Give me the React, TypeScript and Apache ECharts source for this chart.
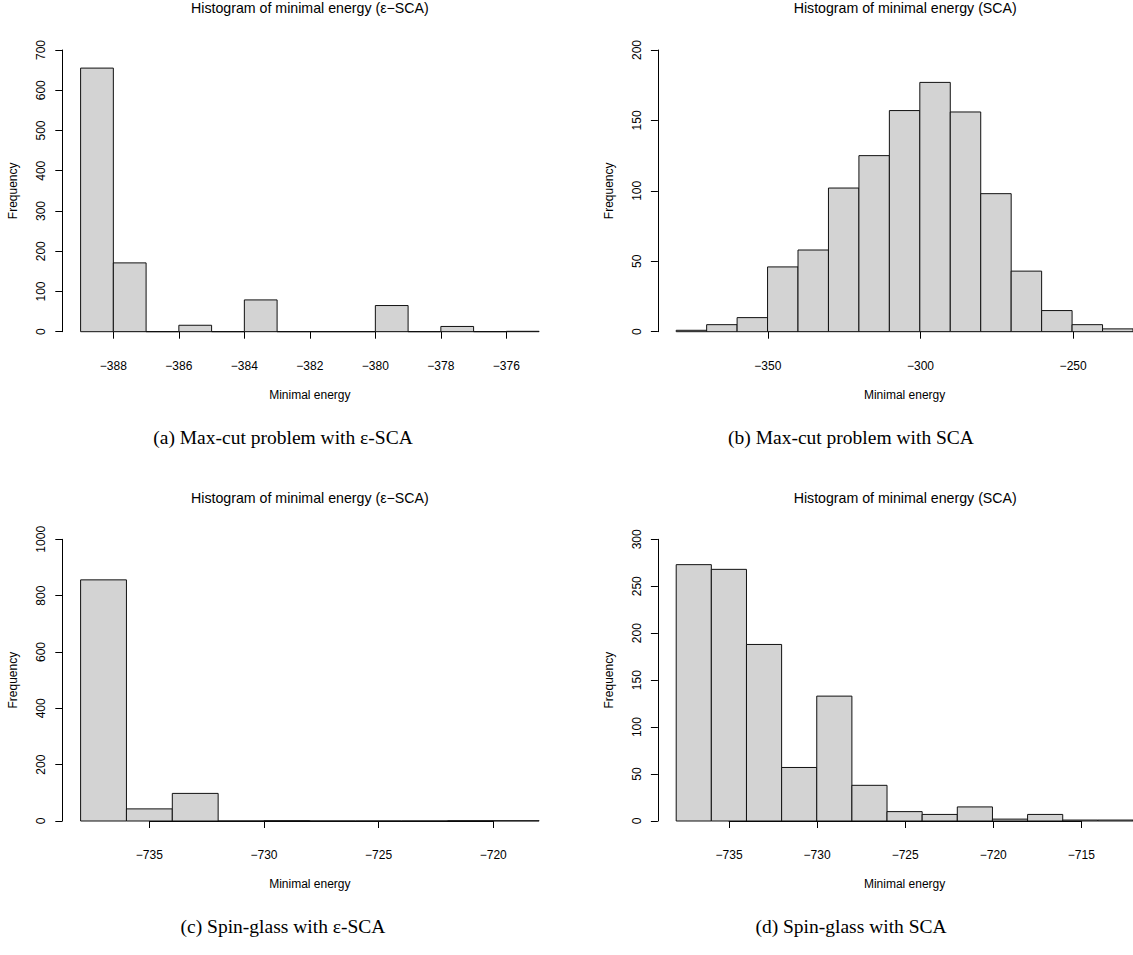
import React, { useEffect, useRef } from "react";
import * as echarts from "echarts";

// ---- Data ----
// (a) Max-cut, epsilon-SCA: bin breaks and counts
const breaksA = [-389, -388, -387, -386, -385, -384, -383, -382, -381, -380, -379, -378, -377, -376, -375];
const countsA = [655, 171, 0, 16, 0, 79, 0, 0, 0, 65, 0, 13, 0, 1];
const xTicksA = [-388, -386, -384, -382, -380, -378, -376];
const yTicksA = [0, 100, 200, 300, 400, 500, 600, 700];

// (b) Max-cut, SCA
const breaksB = [-380, -370, -360, -350, -340, -330, -320, -310, -300, -290, -280, -270, -260, -250, -240, -230];
const countsB = [1, 5, 10, 46, 58, 102, 125, 157, 177, 156, 98, 43, 15, 5, 2];
const xTicksB = [-350, -300, -250];
const yTicksB = [0, 50, 100, 150, 200];

// (c) Spin-glass, epsilon-SCA
const breaksC = [-738, -736, -734, -732, -730, -728, -726, -724, -722, -720, -718];
const countsC = [856, 43, 98, 0, 1, 0, 0, 0, 1, 1];
const xTicksC = [-735, -730, -725, -720];
const yTicksC = [0, 200, 400, 600, 800, 1000];

// (d) Spin-glass, SCA
const breaksD = [-738, -736, -734, -732, -730, -728, -726, -724, -722, -720, -718, -716, -714, -712];
const countsD = [273, 268, 188, 57, 133, 38, 10, 7, 15, 2, 7, 1, 1];
const xTicksD = [-735, -730, -725, -720, -715];
const yTicksD = [0, 50, 100, 150, 200, 250, 300];

const titleEps = "Histogram of minimal energy (ε−SCA)";
const titleSca = "Histogram of minimal energy (SCA)";
const xName = "Minimal energy";
const yName = "Frequency";
const captions = [
  "(a) Max-cut problem with ε-SCA",
  "(b) Max-cut problem with SCA",
  "(c) Spin-glass with ε-SCA",
  "(d) Spin-glass with SCA",
];

const W = 1133;
const H = 955;
const SANS = "'Liberation Sans', Arial, Helvetica, sans-serif";
const SERIF = "'Liberation Serif', 'Times New Roman', serif";
const INK = "#000";

type Panel = {
  breaks: number[];
  counts: number[];
  xTicks: number[];
  yTicks: number[];
  title: string;
  caption: string;
  plotLeft: number;
  plotRight: number;
  top: number;
  base: number;
  capX: number;
  capY: number;
};

const panels: Panel[] = [
  { breaks: breaksA, counts: countsA, xTicks: xTicksA, yTicks: yTicksA, title: titleEps, caption: captions[0], plotLeft: 80.6, plotRight: 539.1, top: 50, base: 331.7, capX: 283, capY: 437 },
  { breaks: breaksB, counts: countsB, xTicks: xTicksB, yTicks: yTicksB, title: titleSca, caption: captions[1], plotLeft: 676.2, plotRight: 1134.2, top: 50, base: 331.7, capX: 851, capY: 437 },
  { breaks: breaksC, counts: countsC, xTicks: xTicksC, yTicks: yTicksC, title: titleEps, caption: captions[2], plotLeft: 80.6, plotRight: 539.1, top: 539.3, base: 821, capX: 283, capY: 926 },
  { breaks: breaksD, counts: countsD, xTicks: xTicksD, yTicks: yTicksD, title: titleSca, caption: captions[3], plotLeft: 676.2, plotRight: 1134.2, top: 539.3, base: 821, capX: 851, capY: 926 },
];

const minus = (v: number) => String(v).replace("-", "\u2212");
const plain = (v: number) => String(v);

function buildOption() {
  const grid: any[] = [];
  const xAxis: any[] = [];
  const yAxis: any[] = [];
  const series: any[] = [];
  const graphic: any[] = [];

  panels.forEach((p, i) => {
    const b0 = p.breaks[0];
    const bN = p.breaks[p.breaks.length - 1];
    const plotW = p.plotRight - p.plotLeft;
    const toPx = (v: number) => p.plotLeft + ((v - b0) / (bN - b0)) * plotW;
    const tx0 = toPx(p.xTicks[0]);
    const tx1 = toPx(p.xTicks[p.xTicks.length - 1]);
    const gBars = 2 * i;
    const gTicks = 2 * i + 1;

    grid.push({ left: p.plotLeft, right: W - p.plotRight, top: p.top, bottom: H - p.base, containLabel: false });
    grid.push({ left: tx0, right: W - tx1, top: p.top, bottom: H - p.base, containLabel: false });

    xAxis.push({
      gridIndex: gBars,
      type: "value",
      min: b0,
      max: bN,
      axisLine: { show: false },
      axisTick: { show: false },
      axisLabel: { show: false },
      splitLine: { show: false },
      name: xName,
      nameLocation: "middle",
      nameGap: 57,
      nameTextStyle: { fontSize: 12, color: INK, fontFamily: SANS },
    });
    xAxis.push({
      gridIndex: gTicks,
      type: "value",
      position: "bottom",
      min: p.xTicks[0],
      max: p.xTicks[p.xTicks.length - 1],
      interval: p.xTicks[1] - p.xTicks[0],
      offset: 11,
      axisLine: { show: true, lineStyle: { color: INK, width: 1 } },
      axisTick: { show: true, length: 7, lineStyle: { color: INK, width: 1 } },
      axisLabel: { show: true, margin: 17, fontSize: 12, color: INK, fontFamily: SANS, formatter: minus },
      splitLine: { show: false },
    });

    yAxis.push({
      gridIndex: gBars,
      type: "value",
      min: p.yTicks[0],
      max: p.yTicks[p.yTicks.length - 1],
      interval: p.yTicks[1] - p.yTicks[0],
      offset: 18.3,
      axisLine: { show: true, lineStyle: { color: INK, width: 1 } },
      axisTick: { show: true, length: 7, lineStyle: { color: INK, width: 1 } },
      axisLabel: { show: true, rotate: 90, margin: 15, fontSize: 12, color: INK, fontFamily: SANS, formatter: plain },
      splitLine: { show: false },
      name: yName,
      nameLocation: "middle",
      nameRotate: 90,
      nameGap: 43,
      nameTextStyle: { fontSize: 12, color: INK, fontFamily: SANS },
    });
    yAxis.push({ gridIndex: gTicks, type: "value", show: false, min: 0, max: 1 });

    const data = p.counts.map((c, k) => [p.breaks[k], p.breaks[k + 1], c]);
    series.push({
      type: "custom",
      xAxisIndex: gBars,
      yAxisIndex: gBars,
      clip: false,
      data,
      encode: { x: [0, 1], y: 2 },
      renderItem: (_params: any, api: any) => {
        const x0 = api.value(0);
        const x1 = api.value(1);
        const c = api.value(2);
        const tl = api.coord([x0, c]);
        const br = api.coord([x1, 0]);
        return {
          type: "polygon",
          shape: {
            points: [
              [tl[0], br[1]],
              [tl[0], tl[1]],
              [br[0], tl[1]],
              [br[0], br[1]],
            ],
          },
          style: { fill: "#d3d3d3", stroke: "#111", lineWidth: 1 },
        };
      },
    });

    graphic.push({
      type: "text",
      x: (p.plotLeft + p.plotRight) / 2,
      y: p.top - 41.7,
      style: { text: p.title, fontSize: 14.2, fontFamily: SANS, fill: INK, align: "center", verticalAlign: "middle" },
    });
    graphic.push({
      type: "text",
      x: p.capX,
      y: p.capY,
      style: { text: p.caption, fontSize: 19.5, fontFamily: SERIF, fill: INK, align: "center", verticalAlign: "middle" },
    });
  });

  return {
    animation: false,
    backgroundColor: "#fff",
    grid,
    xAxis,
    yAxis,
    series,
    graphic,
  };
}

export default function App() {
  const ref = useRef<HTMLDivElement>(null);
  useEffect(() => {
    if (!ref.current) return;
    const chart = echarts.init(ref.current, undefined, { renderer: "svg", width: W, height: H });
    chart.setOption(buildOption() as any);
    return () => chart.dispose();
  }, []);
  return (
    <div
      ref={ref}
      style={{ position: "absolute", left: 0, top: 0, width: W, height: H, background: "#fff", overflow: "hidden" }}
    />
  );
}
